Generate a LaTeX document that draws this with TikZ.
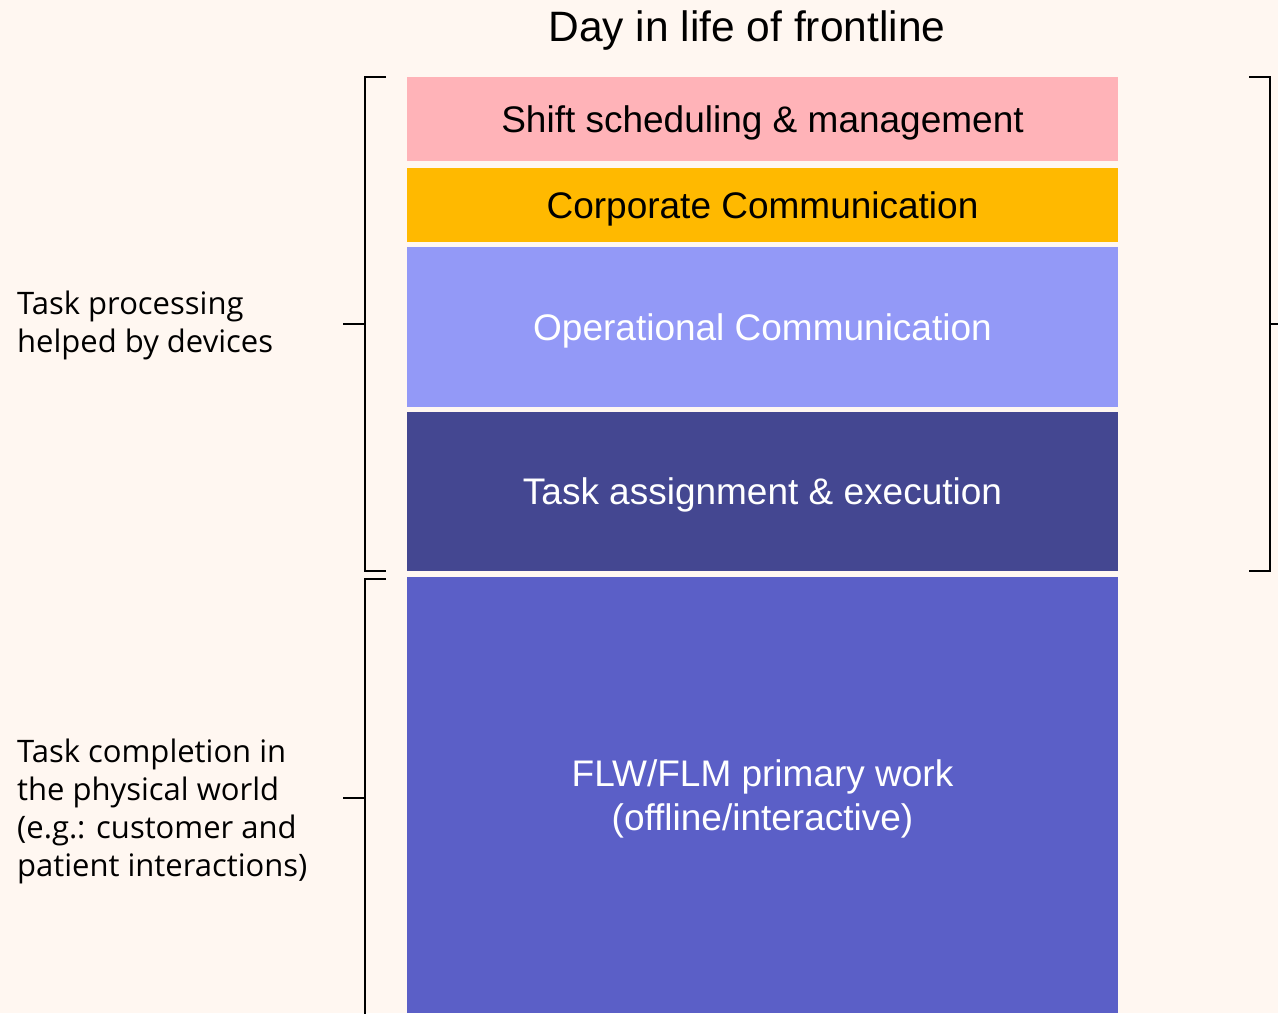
\documentclass[tikz,border=0pt]{standalone}
\usepackage{fontspec}
\setmainfont{Liberation Sans}
\newfontfamily\labfont{Open Sans}
\definecolor{bg}{HTML}{FFF7F1}
\definecolor{cpink}{HTML}{FFB3B8}
\definecolor{corange}{HTML}{FFB900}
\definecolor{clight}{HTML}{9399F7}
\definecolor{cdark}{HTML}{444791}
\definecolor{cmain}{HTML}{5B5FC7}
\begin{document}
\begin{tikzpicture}[x=1pt,y=-1pt,
  band/.style={draw=none,minimum width=711pt,inner sep=0pt,text depth=0pt,font=\fontsize{37}{44}\selectfont,align=center},
  brk/.style={line width=2pt,black},
  lab/.style={anchor=west,align=left,font=\labfont\fontsize{31}{38}\selectfont,inner sep=0pt}]
\fill[bg] (0,0) rectangle (1278,1013);
\useasboundingbox (0,0) rectangle (1278,1013);
\node[font=\fontsize{42.5}{48}\selectfont] (title) at (747,31) {Day in life of frontline};
\node[band,fill=cpink,minimum height=84pt] (b1) at (762.5,119) {Shift scheduling \& management};
\node[band,fill=corange,minimum height=74pt] (b2) at (762.5,205) {Corporate Communication};
\node[band,fill=clight,minimum height=160pt,text=white] (b3) at (762.5,327) {Operational Communication};
\node[band,fill=cdark,minimum height=159pt,text=white] (b4) at (762.5,491.5) {Task assignment \& execution};
\node[band,fill=cmain,minimum height=436pt,text=white] (b5) at (762.5,795) {FLW/FLM primary work\\(offline/interactive)};
% left brackets
\draw[brk] (386,77) -- (365,77) -- (365,571) -- (386,571);
\coordinate (m1) at (365,324);
\draw[brk] (m1) -- ++(-22,0);
\draw[brk] (386,579) -- (365,579) -- (365,1020);
\coordinate (m2) at (365,798);
\draw[brk] (m2) -- ++(-22,0);
% right bracket
\draw[brk] (1249,77) -- (1270,77) -- (1270,571) -- (1249,571);
\coordinate (m3) at (1270,324);
\draw[brk] (m3) -- ++(10,0);
\node[lab] (l1) at (17,325) {Task processing\\helped by devices};
\node[lab] (l2) at (17,811) {Task completion in\\the physical world\\(e.g.: customer and\\patient interactions)};
\end{tikzpicture}
\end{document}
